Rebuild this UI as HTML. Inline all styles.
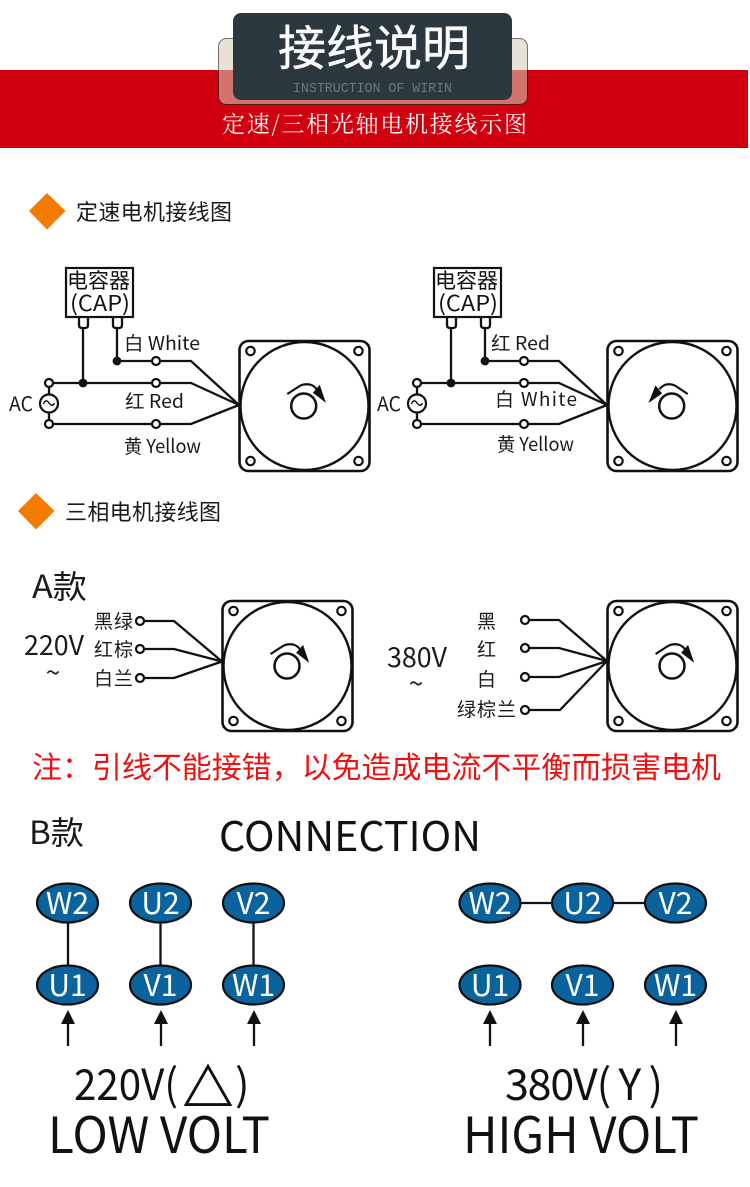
<!DOCTYPE html>
<html><head><meta charset="utf-8"><style>
html,body{margin:0;padding:0;background:#fff}
svg{display:block}
text{font-family:"Noto Sans CJK SC","Liberation Sans",sans-serif;fill:#1a1a1a}
.w{fill:none;stroke:#111;stroke-width:2.3}
.t{fill:#fff;stroke:#111;stroke-width:2.2}
.n{font-size:30px;fill:#fff;text-anchor:middle}
.e{fill:#0b639e;stroke:#111;stroke-width:2.2}
.l{font-size:19px}
</style></head><body>
<svg width="750" height="1187" viewBox="0 0 750 1187" xmlns="http://www.w3.org/2000/svg">
<defs>
<g id="m">
<rect x="1" y="1" width="130" height="130" rx="9" fill="#fff" stroke="#111" stroke-width="2.6"/>
<circle cx="66" cy="66" r="64" fill="#fff" stroke="#111" stroke-width="2.4"/>
<circle cx="12" cy="11" r="4.200" class="t"/><circle cx="120" cy="11" r="4.200" class="t"/>
<circle cx="12" cy="121" r="4.200" class="t"/><circle cx="120" cy="121" r="4.200" class="t"/>
</g>
<g id="cw">
<circle cx="0" cy="0" r="12.500" fill="none" stroke="#111" stroke-width="2.500"/>
<path d="M-16.400,-12 L-4,-20 Q0,-22.500 6.300,-21.500 Q10,-20.500 13,-16.700" fill="none" stroke="#111" stroke-width="2.200"/>
<path d="M15.800,-20 L21,-4.800 L10,-13.300 Z" fill="#111" stroke="#111" stroke-width="1.200"/>
</g>
<g id="ccw">
<circle cx="0" cy="0" r="12.500" fill="none" stroke="#111" stroke-width="2.500"/>
<path d="M16,-12 L4,-20 Q0,-22.500 -5.700,-21.500 Q-9,-20.500 -12.300,-16.700" fill="none" stroke="#111" stroke-width="2.200"/>
<path d="M-16,-19.500 L-22,-4.500 L-10.500,-12.700 Z" fill="#111" stroke="#111" stroke-width="1.200"/>
</g>
<g id="cap">
<rect x="66" y="268" width="67" height="49" fill="#fff" stroke="#111" stroke-width="2.200"/>
<path d="M79,317 V325 Q79,328 82,328 H85 Q88,328 88,325 V317 M113,317 V325 Q113,328 116,328 H119 Q122,328 122,325 V317" class="w"/>
<path d="M83,328 V383 M117,328 V361 M117,361 H191 L239,405 M49,383 H191 L239,405 M49,424 H191 L239,405 M49,383 V394 M49,413 V424" class="w"/>
<circle cx="117" cy="361" r="4.400" fill="#111"/><circle cx="83" cy="383" r="4.400" fill="#111"/>
<circle cx="156" cy="361" r="4" class="t"/><circle cx="156" cy="383" r="4" class="t"/><circle cx="156" cy="424" r="4" class="t"/>
<circle cx="49" cy="383" r="4" class="t"/><circle cx="49" cy="424" r="4" class="t"/>
<circle cx="49" cy="403.500" r="9" class="t"/>
<path d="M43.500,404 C45,400 47,400 49,403 C51,406 53,406 54.500,403" fill="none" stroke="#111" stroke-width="1.400"/>
<text x="67" y="288" font-size="21" textLength="63" lengthAdjust="spacingAndGlyphs" style="fill:#111">电容器</text>
<text x="70" y="311" font-size="22" textLength="60" lengthAdjust="spacingAndGlyphs" style="fill:#111">(CAP)</text>
<text x="9" y="411" font-size="20" textLength="24" lengthAdjust="spacingAndGlyphs">AC</text>
</g>
<g id="arr"><path d="M0,1024 V1046" class="w"/><path d="M0,1010 L7,1024 H-7 Z" fill="#111"/></g>
</defs>

<!-- header -->
<rect x="0" y="70" width="748" height="78" fill="#d1000f"/>
<rect x="218.500" y="38.500" width="309" height="66" rx="8" fill="#e6e2d8" stroke="#77706a"/>
<path d="M219,70 H527 V96 Q527,104 519,104 H227 Q219,104 219,96 Z" fill="#d2736e"/>
<path d="M218.500,70 V96 Q218.500,104.500 227,104.500 H519 Q527.500,104.500 527.500,96 V70" fill="none" stroke="#5a1512"/>
<rect x="233" y="13" width="279" height="87" rx="8" fill="#2b383f"/>
<text x="278" y="65" font-size="48" textLength="192" style="fill:#fbfbfb;stroke:#fbfbfb;stroke-width:.5">接线说明</text>
<text x="293" y="92" font-size="14" textLength="159" lengthAdjust="spacingAndGlyphs" style="font-family:'Liberation Mono',monospace;fill:#6d797e">INSTRUCTION OF WIRIN</text>
<text x="222" y="132" font-size="23" textLength="305" style="font-family:'Noto Serif CJK SC',serif;fill:#fff">定速/三相光轴电机接线示图</text>

<!-- section headers -->
<path d="M47,193 L65.500,211 L47,229.500 L29,211 Z" fill="#f47a00"/>
<text x="76" y="220" font-size="22" textLength="156">定速电机接线图</text>
<path d="M36,493 L54.500,511 L36,529.500 L18,511 Z" fill="#f47a00"/>
<text x="65" y="520" font-size="22" textLength="156">三相电机接线图</text>

<!-- capacitor motors -->
<use href="#m" x="238.500" y="340"/>
<use href="#cw" x="303.700" y="406"/>
<use href="#cap"/>
<text x="124" y="350" class="l" textLength="76" lengthAdjust="spacingAndGlyphs">白 White</text>
<text x="125" y="408" class="l" textLength="59" lengthAdjust="spacingAndGlyphs">红 Red</text>
<text x="124" y="453" class="l" textLength="77" lengthAdjust="spacingAndGlyphs">黄 Yellow</text>

<use href="#m" x="606.500" y="340"/>
<use href="#ccw" x="671.700" y="406"/>
<use href="#cap" x="368"/>
<text x="491" y="350" class="l" textLength="59" lengthAdjust="spacingAndGlyphs">红 Red</text>
<text x="495" y="406" class="l" textLength="82" lengthAdjust="spacing">白 White</text>
<text x="497" y="451" class="l" textLength="77" lengthAdjust="spacingAndGlyphs">黄 Yellow</text>

<!-- A -->
<text x="32" y="598" font-size="32" textLength="55" lengthAdjust="spacingAndGlyphs">A款</text>
<text x="24" y="655" font-size="27" textLength="60" lengthAdjust="spacingAndGlyphs">220V</text>
<text x="53" y="682" font-size="26" text-anchor="middle">~</text>
<text x="94" y="628" class="l" textLength="39">黑绿</text>
<text x="94" y="656" class="l" textLength="39">红棕</text>
<text x="94" y="685" class="l" textLength="39">白兰</text>
<use href="#m" x="221.500" y="600"/>
<use href="#cw" x="287" y="666"/>
<path d="M140,621 H174 L222,661.500 M140,649 H174 L222,661.500 M140,678 H174 L222,661.500" class="w"/>
<circle cx="140" cy="621" r="4" class="t"/><circle cx="140" cy="649" r="4" class="t"/><circle cx="140" cy="678" r="4" class="t"/>

<text x="387" y="667" font-size="27" textLength="60" lengthAdjust="spacingAndGlyphs">380V</text>
<text x="416" y="693" font-size="26" text-anchor="middle">~</text>
<text x="477" y="628" class="l">黑</text>
<text x="477" y="656" class="l">红</text>
<text x="477" y="686" class="l">白</text>
<text x="457" y="716" class="l" textLength="59">绿棕兰</text>
<use href="#m" x="606.500" y="600"/>
<use href="#cw" x="672" y="666"/>
<path d="M525,620 H559 L607,661 M525,648 H559 L607,661 M525,677 H559 L607,661 M525,710 H560 L607,661" class="w"/>
<circle cx="525" cy="620" r="4" class="t"/><circle cx="525" cy="648" r="4" class="t"/><circle cx="525" cy="677" r="4" class="t"/><circle cx="525" cy="710" r="4" class="t"/>

<text x="32" y="778" font-size="30" textLength="689" style="fill:#f01010">注：引线不能接错，以免造成电流不平衡而损害电机</text>
<text x="29" y="844" font-size="32" textLength="55" lengthAdjust="spacingAndGlyphs">B款</text>
<text x="219" y="851" font-size="41" textLength="262" lengthAdjust="spacingAndGlyphs" style="fill:#111">CONNECTION</text>

<!-- B left -->
<path d="M68,903 V985 M160.500,903 V985 M253.500,903 V985" class="w"/>
<ellipse cx="67.500" cy="903" rx="30.500" ry="19.500" class="e"/><text x="67.500" y="914" class="n">W2</text>
<ellipse cx="160.500" cy="903" rx="30.500" ry="19.500" class="e"/><text x="160.500" y="914" class="n">U2</text>
<ellipse cx="253.500" cy="903" rx="30.500" ry="19.500" class="e"/><text x="253.500" y="914" class="n">V2</text>
<ellipse cx="67.500" cy="985" rx="30.500" ry="19.500" class="e"/><text x="67.500" y="996" class="n">U1</text>
<ellipse cx="160.500" cy="985" rx="30.500" ry="19.500" class="e"/><text x="160.500" y="996" class="n">V1</text>
<ellipse cx="253.500" cy="985" rx="30.500" ry="19.500" class="e"/><text x="253.500" y="996" class="n">W1</text>
<use href="#arr" x="68"/><use href="#arr" x="161"/><use href="#arr" x="254"/>
<text x="74" y="1100" font-size="43" textLength="104" lengthAdjust="spacingAndGlyphs" style="fill:#111">220V(</text>
<text x="208" y="1106" font-size="50" text-anchor="middle" style="fill:#111;stroke:#111;stroke-width:1">△</text>
<text x="235" y="1100" font-size="43" style="fill:#111">)</text>
<text x="48" y="1153" font-size="50" textLength="222" lengthAdjust="spacingAndGlyphs" style="fill:#111">LOW VOLT</text>

<!-- B right -->
<path d="M490,903 H675" class="w"/>
<ellipse cx="490" cy="903" rx="30.500" ry="19.500" class="e"/><text x="490" y="914" class="n">W2</text>
<ellipse cx="582.500" cy="903" rx="30.500" ry="19.500" class="e"/><text x="582.500" y="914" class="n">U2</text>
<ellipse cx="675.500" cy="903" rx="30.500" ry="19.500" class="e"/><text x="675.500" y="914" class="n">V2</text>
<ellipse cx="490" cy="985" rx="30.500" ry="19.500" class="e"/><text x="490" y="996" class="n">U1</text>
<ellipse cx="582.500" cy="985" rx="30.500" ry="19.500" class="e"/><text x="582.500" y="996" class="n">V1</text>
<ellipse cx="675.500" cy="985" rx="30.500" ry="19.500" class="e"/><text x="675.500" y="996" class="n">W1</text>
<use href="#arr" x="490"/><use href="#arr" x="583"/><use href="#arr" x="676"/>
<text x="505" y="1100" font-size="43" textLength="158" lengthAdjust="spacing" style="fill:#111">380V( Y )</text>
<text x="463" y="1153" font-size="50" textLength="236" lengthAdjust="spacingAndGlyphs" style="fill:#111">HIGH VOLT</text>
</svg>
</body></html>
